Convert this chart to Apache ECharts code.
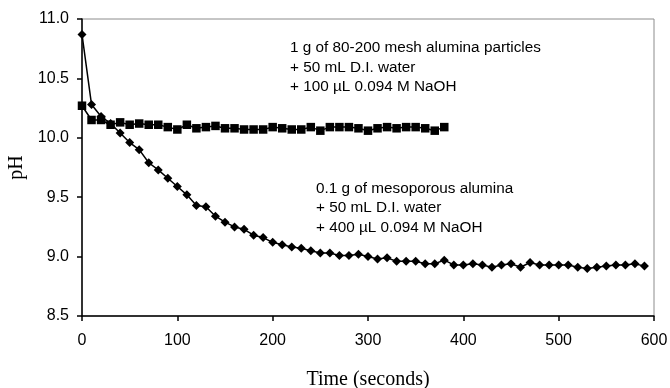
<!DOCTYPE html>
<html>
<head>
<meta charset="utf-8">
<script src="https://cdn.jsdelivr.net/npm/echarts@6/dist/echarts.min.js"></script>
<style>
html,body{margin:0;padding:0;background:#fff;}
#chart{width:670px;height:388px;}
</style>
</head>
<body>
<div id="chart"></div>
<script>
// Particles series (squares): time (s) and pH
var particleTimes = [0,10,20,30,40,50,60,70,80,90,100,110,120,130,140,150,160,170,180,190,200,210,220,230,240,250,260,270,280,290,300,310,320,330,340,350,360,370,380];
var particlePH = [10.27,10.15,10.15,10.11,10.13,10.11,10.12,10.11,10.11,10.09,10.07,10.11,10.08,10.09,10.10,10.08,10.08,10.07,10.07,10.07,10.09,10.08,10.07,10.07,10.09,10.06,10.09,10.09,10.09,10.08,10.06,10.08,10.09,10.08,10.09,10.09,10.08,10.06,10.09];

// Mesoporous series (diamonds): time (s) and pH
var mesoTimes = [0,10,20,30,40,50,60,70,80,90,100,110,120,130,140,150,160,170,180,190,200,210,220,230,240,250,260,270,280,290,300,310,320,330,340,350,360,370,380,390,400,410,420,430,440,450,460,470,480,490,500,510,520,530,540,550,560,570,580,590];
var mesoPH = [10.87,10.28,10.18,10.12,10.04,9.96,9.90,9.79,9.73,9.66,9.59,9.52,9.43,9.42,9.34,9.29,9.25,9.23,9.18,9.16,9.12,9.10,9.08,9.07,9.05,9.03,9.03,9.01,9.01,9.02,9.00,8.98,8.99,8.96,8.96,8.96,8.94,8.94,8.97,8.93,8.93,8.94,8.93,8.91,8.93,8.94,8.91,8.95,8.93,8.93,8.93,8.93,8.91,8.90,8.91,8.92,8.93,8.93,8.94,8.92];

// Axis settings
var xMin = 0, xMax = 600, xStep = 100;
var yMin = 8.5, yMax = 11.0, yStep = 0.5;
var xTitle = 'Time (seconds)';
var yTitle = 'pH';

// Annotations
var note1 = ['1 g of 80-200 mesh alumina particles', '+ 50 mL D.I. water', '+ 100 µL 0.094 M NaOH'];
var note2 = ['0.1 g of mesoporous alumina', '+ 50 mL D.I. water', '+ 400 µL 0.094 M NaOH'];

function pairs(xs, ys) { return xs.map(function (x, i) { return [x, ys[i]]; }); }

var sans = '"Liberation Sans", Arial, sans-serif';
var serif = '"Liberation Serif", "Times New Roman", serif';

var chart = echarts.init(document.getElementById('chart'), null, {renderer: 'canvas'});
chart.setOption({
  animation: false,
  backgroundColor: '#ffffff',
  grid: {left: 82, right: 16, top: 19, bottom: 72, containLabel: false, outerBoundsMode: 'none', show: true, borderColor: '#8c8c8c', borderWidth: 1, backgroundColor: 'transparent'},
  xAxis: {
    type: 'value', min: xMin, max: xMax, interval: xStep,
    name: xTitle, nameLocation: 'middle', nameGap: 54,
    nameTextStyle: {fontFamily: serif, fontSize: 20, color: '#000'},
    axisLine: {show: true, onZero: false, lineStyle: {color: '#000', width: 1.5}},
    axisTick: {show: true, inside: false, length: 5, lineStyle: {color: '#000', width: 1.5}},
    axisLabel: {margin: 17, fontFamily: sans, fontSize: 16, color: '#000'},
    splitLine: {show: false}
  },
  yAxis: {
    type: 'value', min: yMin, max: yMax, interval: yStep,
    name: yTitle, nameLocation: 'middle', nameGap: 47,
    nameTextStyle: {fontFamily: serif, fontSize: 20, color: '#000'},
    axisLine: {show: true, onZero: false, lineStyle: {color: '#000', width: 1.5}},
    axisTick: {show: true, inside: false, length: 5, lineStyle: {color: '#000', width: 1.5}},
    axisLabel: {margin: 13, fontFamily: sans, fontSize: 16, color: '#000', formatter: function (v) { return v.toFixed(1); }},
    splitLine: {show: false}
  },
  series: [
    {
      type: 'line', data: pairs(mesoTimes, mesoPH),
      symbol: 'diamond', symbolSize: 9, showAllSymbol: true,
      lineStyle: {color: '#000', width: 1.5},
      itemStyle: {color: '#000', borderColor: '#000', borderWidth: 0}
    },
    {
      type: 'line', data: pairs(particleTimes, particlePH),
      symbol: 'rect', symbolSize: 8.5, showAllSymbol: true,
      lineStyle: {color: '#000', width: 1.5},
      itemStyle: {color: '#000', borderColor: '#000', borderWidth: 0}
    }
  ],
  graphic: [
    {type: 'text', left: 290, top: 38, style: {text: note1.join('\n'), fontFamily: sans, fontSize: 15.3, lineHeight: 19.7, fill: '#000'}},
    {type: 'text', left: 316, top: 179, style: {text: note2.join('\n'), fontFamily: sans, fontSize: 15.3, lineHeight: 19.5, fill: '#000'}}
  ]
});
</script>
</body>
</html>
